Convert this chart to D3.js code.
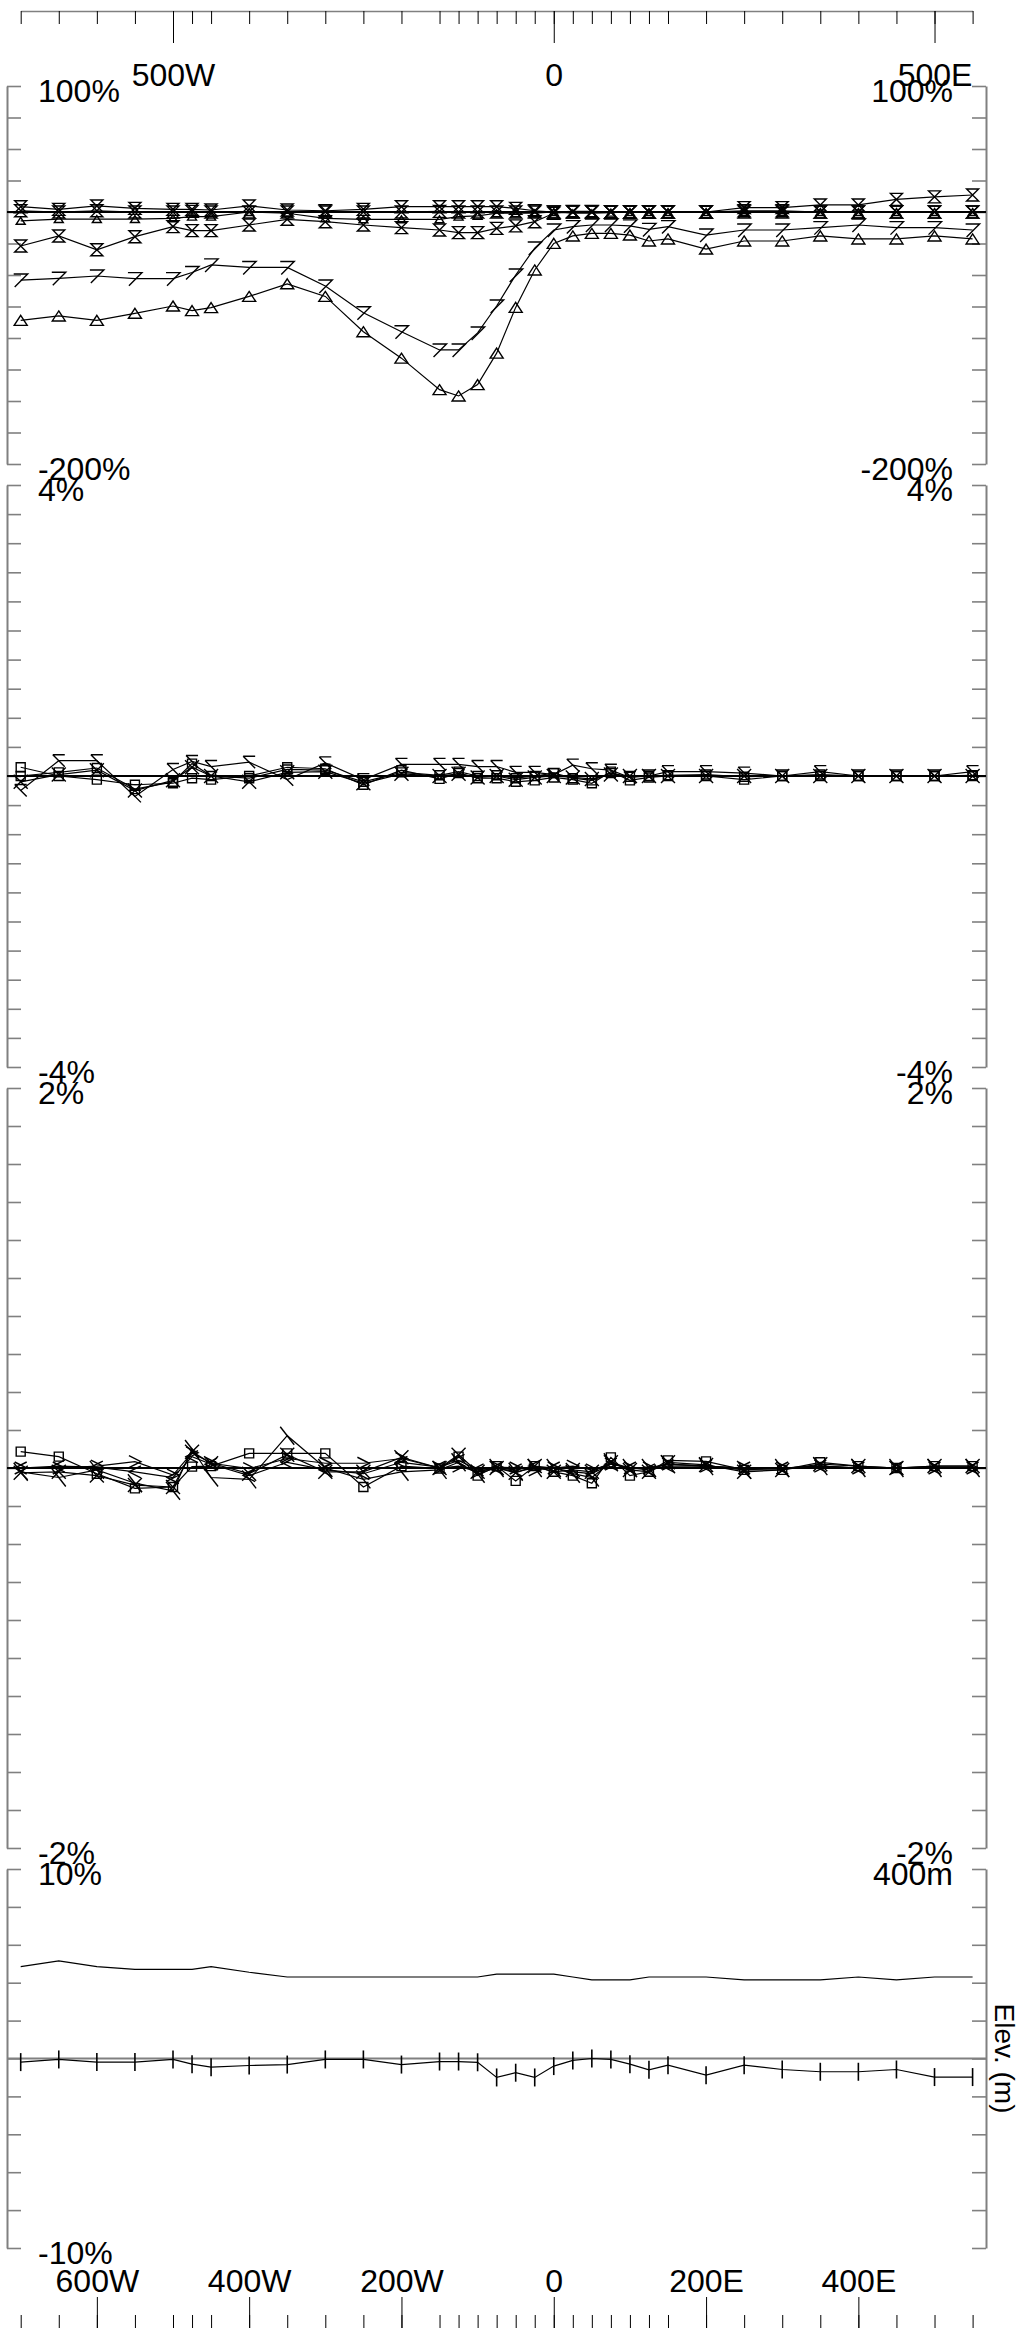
<!DOCTYPE html>
<html>
<head>
<meta charset="utf-8">
<script src="https://cdn.jsdelivr.net/npm/d3@7"></script>
<style>
body { margin: 0; background: #fff; }
svg { display: block; }
text { font-family: "Liberation Sans", Arial, sans-serif; fill: #000; }
</style>
</head>
<body>
<div id="chart"></div>
<script>
// station positions along the line, metres (negative = west)
var stations = [-700,-650,-600,-550,-500,-475,-450,-400,-350,-300,-250,-200,-150,-125,-100,-75,-50,-25,0,25,50,75,100,125,150,200,250,300,350,400,450,500,550];
var topLabels = [-500, 0, 500];
var bottomLabels = [-600, -400, -200, 0, 200, 400];

// panel 1 (%)
var p1Seven = [-54,-52.6,-50.8,-52.9,-52.9,-48,-42,-44,-44,-58.7,-80,-95,-109.5,-109.5,-96,-74.6,-50,-28.6,-14.3,-11.6,-10.3,-10.3,-11,-13.8,-11.6,-18.3,-14.3,-14.3,-12.4,-10.3,-12.4,-12.4,-14.3];
var p1Tri = [-86,-82.5,-86,-80.4,-74.6,-78.3,-75.9,-67,-57,-67,-95,-116,-141,-146,-137,-112,-75.7,-46,-24.9,-19,-17,-17,-18.3,-23,-21.4,-29.4,-23,-23,-19,-21.4,-21.4,-19,-21.4];
var p1Hour = [-27,-19,-30,-19.6,-11.6,-14.8,-14.8,-10.3,-5.8,-7.7,-10.3,-12.4,-14.3,-16.4,-16.4,-13,-11,-7.7,-1,0,0,0,0,0,0,0,3.5,3.5,5.6,5.6,10,12,13.5];
var p1TriSmall = [-7,-5.6,-5.6,-5.6,-5,-3.7,-3.7,0,-1,-5,-5.8,-5.8,-5.8,-3.7,-3,-1,-1,-1,0,-1,-1,-0.5,0,0,0,0,0,0,0,0,0,0,0];
var p1HourTop = [4.2,2.1,4.8,2.9,2.1,2.1,1.6,4.8,1.6,1,2.1,4.2,4.2,4.2,4.2,4.2,2.9,1,0,0.5,0.5,0,0,0,0,0,1,1,0,0,0,0,0];
var p1Flat = [1,0,1,0,0,0.5,0,0,0,0,0,0,0.5,0,0,0,0,0,0,0,0,0,0,0,0,0,0,0,0,0,0,0,0];

// panel 2 (%)
var p2SqA = [0,0.05,0.11,-0.18,-0.08,0.17,0,-0.03,0.09,0.08,-0.08,0.05,0.01,0.06,0,0.01,-0.03,0,0.04,-0.03,-0.06,0.04,-0.01,0,0.01,0.02,-0.01,0,0.02,0,0,0,0.01];
var p2Sig = [-0.2,0.21,0.21,-0.28,0.09,0.2,0.13,0.19,-0.05,0.18,-0.05,0.16,0.16,0.16,0.13,0.13,0.05,0.05,0.02,0.15,0.1,0.08,-0.02,0,0.06,0.06,0.04,0,0.06,0,0,0,0.06];
var p2SqB = [0.12,0,-0.05,-0.12,-0.1,-0.03,-0.05,0,0.12,0.1,-0.12,0.08,-0.04,0.04,-0.03,-0.03,-0.08,-0.06,-0.02,-0.05,-0.1,0.06,-0.06,-0.02,0,0,-0.05,0,0,0,0,0,0];
var p2X = [-0.08,0.02,0.08,-0.2,-0.06,0.12,0,-0.08,0.05,0.06,-0.1,0.03,0,0.03,-0.02,0,-0.05,-0.02,0,-0.02,-0.04,0.02,0,0,0,0,0,0,0,0,0,0,0];

// panel 3 (%)
var p3X = [-0.025,-0.02,-0.04,-0.09,-0.1,0.086,0.025,-0.03,0.07,-0.02,-0.02,0.056,0,0.07,-0.02,0,-0.025,0.01,-0.02,-0.01,-0.02,0.03,-0.01,-0.02,0.03,0.016,-0.02,-0.01,0.02,0.01,0,0.01,0.01];
var p3Sq = [0.086,0.06,-0.03,-0.107,-0.1,0.007,0.01,0.077,0.077,0.077,-0.1,0.01,-0.003,0.06,-0.04,0.01,-0.068,0.01,-0.02,-0.04,-0.08,0.056,-0.04,-0.02,0.04,0.035,-0.01,-0.01,0.03,0.01,0,0.01,0.01];
var p3Chev = [0,0,0.01,0.033,-0.037,0.08,0.025,-0.003,0.05,0.025,0.025,0.05,0,0.01,-0.02,0.005,0,-0.01,0,0.01,-0.01,0.02,0,0,0.02,0.01,0,0,0.01,0,0,0,0];
var p3Back = [-0.02,-0.05,-0.01,-0.08,-0.12,0.1,-0.05,-0.06,0.17,0,-0.06,-0.02,-0.01,0.03,-0.03,0,-0.02,0,0,-0.03,-0.05,0.03,0,0,0.02,0.01,-0.01,0,0.01,0,0,0,0];
var p3Lt = [0,0.01,0.005,-0.02,-0.05,0.06,0.02,-0.04,0.03,-0.01,-0.03,0.03,0.005,0.04,-0.01,0,-0.01,0.01,0,-0.02,-0.03,0.02,0,-0.01,0.01,0.01,0,0,0.01,0,0,0,0];

// panel 4: grade (%) and elevation (m)
var p4Grade = [-0.19,-0.05,-0.19,-0.19,-0.05,-0.3,-0.46,-0.37,-0.32,-0.05,-0.05,-0.32,-0.16,-0.16,-0.2,-1,-0.75,-1,-0.4,-0.1,0,-0.05,-0.3,-0.6,-0.35,-0.88,-0.35,-0.58,-0.7,-0.7,-0.58,-0.98,-0.98];
var elevation = [297,303,297,294,294,294,297,291,286,286,286,286,286,286,286,289,289,289,289,286,283,283,283,286,286,286,283,283,283,286,283,286,286];

var markerShapes = {
  seven: "M-7,-6H7L-6,7",
  tri: "M0,-5L6.5,5H-6.5Z",
  triSmall: "M0,-3.5L4.5,3.5H-4.5Z",
  hourglass: "M-6,-6H6L-6,6H6Z",
  square: "M-4.5,-4.5H4.5V4.5H-4.5Z",
  sigma: "M-6,-6H6M-6,-6L6,6",
  cross: "M-7,-7L7,7M-7,7L7,-7",
  chevR: "M-6,-6L6,0L-6,6",
  chevL: "M6,-6L-6,0L6,6",
  slash: "M-7,-9L7,9",
  vbar: "M0,-9V9"
};

var width = 1021, height = 2328;
var frameL = 7, frameR = 986;
var svg = d3.select("#chart").append("svg").attr("width", width).attr("height", height);

var x = d3.scaleLinear().domain([-700, 550]).range([20.7, 972.6]);
var fmtX = function(d){ return d < 0 ? (-d) + "W" : d > 0 ? d + "E" : "0"; };

var panels = [
  {top: 86, bottom: 464, domain: [-200, 100], step: 25, zero: "#000",
   series: [[p1HourTop,"hourglass"],[p1Flat,"hourglass"],[p1TriSmall,"triSmall"],[p1Hour,"hourglass"],[p1Seven,"seven"],[p1Tri,"tri"]]},
  {top: 485, bottom: 1067, domain: [-4, 4], step: 0.4, zero: "#000",
   series: [[p2SqB,"square"],[p2X,"cross"],[p2Sig,"sigma"],[p2SqA,"square"]]},
  {top: 1088, bottom: 1848, domain: [-2, 2], step: 0.2, zero: "#000",
   series: [[p3Lt,"chevL"],[p3Chev,"chevR"],[p3Back,"slash"],[p3Sq,"square"],[p3X,"cross"]]},
  {top: 1869, bottom: 2248, domain: [-10, 10], step: 2, zero: "#808080",
   series: [[p4Grade,"vbar"]]}
];

panels.forEach(function(p, pi) {
  var y = d3.scaleLinear().domain(p.domain).range([p.bottom, p.top]);
  var ticks = d3.range(0, Math.round((p.domain[1] - p.domain[0]) / p.step) + 1).map(function(i){ return p.domain[0] + i * p.step; });
  var g = svg.append("g");

  var leftAxis = g.append("g").attr("transform", "translate(" + frameL + ",0)")
    .call(d3.axisRight(y).tickValues(ticks).tickSize(14).tickSizeOuter(0).tickFormat(""));
  var rightAxis = g.append("g").attr("transform", "translate(" + frameR + ",0)")
    .call(d3.axisLeft(y).tickValues(ticks).tickSize(14).tickSizeOuter(0).tickFormat(""));
  [leftAxis, rightAxis].forEach(function(a){
    a.select(".domain").attr("stroke", "#808080").attr("stroke-width", 2);
    a.selectAll(".tick line").attr("stroke", "#808080").attr("stroke-width", 1.6);
  });

  g.append("line").attr("x1", frameL).attr("x2", frameR).attr("y1", y(0)).attr("y2", y(0))
    .attr("stroke", p.zero).attr("stroke-width", pi == 3 ? 2.2 : 1.8);

  if (pi == 3) {
    var ye = d3.scaleLinear().domain([0, 400]).range([p.bottom, p.top]);
    g.append("path").datum(elevation)
      .attr("d", d3.line().x(function(d,i){ return x(stations[i]); }).y(function(d){ return ye(d); }))
      .attr("fill", "none").attr("stroke", "#000").attr("stroke-width", 1.2);
    g.append("text").attr("x", 953).attr("y", ye(400) + 16).attr("text-anchor", "end")
      .style("font-size", "32px").text("400m");
    g.append("text").attr("transform", "translate(995," + ye(200) + ") rotate(90)")
      .attr("text-anchor", "middle").style("font-size", "28px").text("Elev. (m)");
  }

  p.series.forEach(function(s) {
    g.append("path").datum(s[0])
      .attr("d", d3.line().x(function(d,i){ return x(stations[i]); }).y(function(d){ return y(d); }))
      .attr("fill", "none").attr("stroke", "#000").attr("stroke-width", 1.2);
    g.append("g").selectAll("path").data(s[0]).enter().append("path")
      .attr("transform", function(d,i){ return "translate(" + x(stations[i]) + "," + y(d) + ")"; })
      .attr("d", markerShapes[s[1]])
      .attr("fill", "none").attr("stroke", "#000").attr("stroke-width", s[1] == "vbar" ? 1.6 : 1.4);
  });

  var lab = function(v){ return v + "%"; };
  g.append("text").attr("x", 38).attr("y", y(p.domain[1]) + 16).style("font-size", "32px").text(lab(p.domain[1]));
  g.append("text").attr("x", 38).attr("y", y(p.domain[0]) + 16).style("font-size", "32px").text(lab(p.domain[0]));
  if (pi < 3) {
    g.append("text").attr("x", 953).attr("y", y(p.domain[1]) + 16).attr("text-anchor", "end").style("font-size", "32px").text(lab(p.domain[1]));
    g.append("text").attr("x", 953).attr("y", y(p.domain[0]) + 16).attr("text-anchor", "end").style("font-size", "32px").text(lab(p.domain[0]));
  }
});

// top distance axis
var topShort = svg.append("g").attr("transform", "translate(0,11)")
  .call(d3.axisBottom(x).tickValues(stations).tickSize(13).tickSizeOuter(0).tickFormat(""));
topShort.select(".domain").attr("stroke", "#808080").attr("stroke-width", 1.6);
var topLong = svg.append("g").attr("transform", "translate(0,11)")
  .call(d3.axisBottom(x).tickValues(topLabels).tickSize(32).tickPadding(20).tickFormat(fmtX));
topLong.select(".domain").remove();

// bottom distance axis
var botShort = svg.append("g").attr("transform", "translate(0,2329)")
  .call(d3.axisTop(x).tickValues(stations).tickSize(14).tickSizeOuter(0).tickFormat(""));
botShort.select(".domain").remove();
var botLong = svg.append("g").attr("transform", "translate(0,2329)")
  .call(d3.axisTop(x).tickValues(bottomLabels).tickSize(32).tickPadding(5).tickFormat(fmtX));
botLong.select(".domain").remove();

svg.selectAll(".tick text").style("font-size", "32px").style("font-family", "'Liberation Sans', Arial, sans-serif").attr("fill", "#000");
svg.selectAll(".tick line").filter(function(){ return !this.getAttribute("stroke") || this.getAttribute("stroke") == "currentColor"; })
  .attr("stroke", "#000").attr("stroke-width", 1);
</script>
</body>
</html>
